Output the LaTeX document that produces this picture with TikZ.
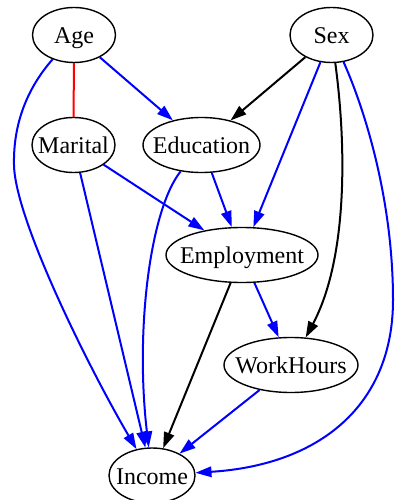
\documentclass[tikz,border=0pt]{standalone}
\usepackage{fontspec}
\setmainfont{Liberation Serif}
\usetikzlibrary{shapes.geometric,arrows.meta}
\begin{document}
\begin{tikzpicture}[x=1pt,y=-1pt,
  var/.style={draw, ellipse, line width=1.4pt, inner sep=0pt, minimum height=55pt,
    text height=17pt, text depth=0pt, font=\fontsize{24}{28}\selectfont},
  arcbase/.style={line width=2pt, -{Triangle[length=16pt,width=10.5pt]}},
  bluearc/.style={arcbase, draw={rgb,255:red,0;green,0;blue,255}},
  blackarc/.style={arcbase, draw=black},
  redline/.style={line width=2pt, draw={rgb,255:red,255;green,0;blue,0}}]
\useasboundingbox (0,0) rectangle (394,500);
\node[var, minimum width=83pt] (Age) at (74,35) {\makebox[0pt]{Age}};
\node[var, minimum width=83pt] (Sex) at (331.5,35) {\makebox[0pt]{Sex}};
\node[var, minimum width=83pt] (Marital) at (73.5,145) {\makebox[0pt]{Marital}};
\node[var, minimum width=117pt] (Education) at (201.5,145) {\makebox[0pt]{Education}};
\node[var, minimum width=152pt] (Employment) at (242,255) {\makebox[0pt]{Employment}};
\node[var, minimum width=134pt] (WorkHours) at (291,365) {\makebox[0pt]{WorkHours}};
\node[var, minimum width=86pt] (Income) at (152,475.5) {\makebox[0pt]{Income}};

\draw[redline] (Age) -- (Marital);
\draw[bluearc] (Age) -- (Education);
\draw[bluearc] (Age) .. controls (30,85) and (13,120) .. (14,165) .. controls (15,220) and (90,370) .. (Income);
\draw[bluearc] (Marital) -- (Employment);
\draw[bluearc] (Marital) -- (Income);
\draw[bluearc] (Education) -- (Employment);
\draw[bluearc] (Education) .. controls (150,210) and (135,330) .. (Income);
\draw[blackarc] (Sex) -- (Education);
\draw[bluearc] (Sex) -- (Employment);
\draw[blackarc] (Sex) .. controls (347,150) and (347,260) .. (WorkHours);
\draw[bluearc] (Sex) .. controls (365,110) and (393,200) .. (393,300) .. controls (393,405) and (320,465) .. (Income);
\draw[bluearc] (Employment) -- (WorkHours);
\draw[blackarc] (Employment) -- (Income);
\draw[bluearc] (WorkHours) -- (Income);
\end{tikzpicture}
\end{document}
